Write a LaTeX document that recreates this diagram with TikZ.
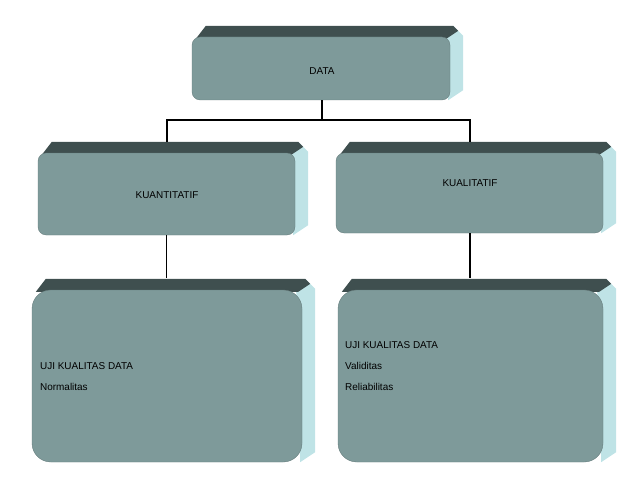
\documentclass[tikz,border=0pt]{standalone}
\usepackage{fontspec}
\setmainfont{Liberation Sans}
\usetikzlibrary{backgrounds}
\definecolor{frontcol}{HTML}{7E9A9A}
\definecolor{topcol}{HTML}{3F4F4F}
\definecolor{sidecol}{HTML}{BFE3E6}
\tikzset{
  front/.style={fill=frontcol, draw=frontcol!80!black, line width=0.3pt, rounded corners=7pt, inner sep=0pt},
  bigfront/.style={front, rounded corners=16pt},
  label/.style={font=\fontsize{8.5}{10}\selectfont},
  link/.style={line width=1.2pt}
}
% 3D faces behind a front node
\newcommand{\faces}[1]{
  \begin{scope}[on background layer]
    \fill[sidecol] ([shift={(-6,0)}]#1.north east) -- ([shift={(3,-11)}]#1.north east) -- ([shift={(13,-1)}]#1.north east)
      -- ([shift={(13,-10)}]#1.south east) -- ([shift={(-2,0)}]#1.south east) -- cycle;
    \fill[topcol] ([shift={(4,2)}]#1.north west) -- ([shift={(14,-11)}]#1.north west) -- ([shift={(3,-11)}]#1.north east)
      -- ([shift={(8,-6)}]#1.north east) -- ([shift={(-4,2)}]#1.north east) -- cycle;
  \end{scope}
}
\begin{document}
\begin{tikzpicture}[x=0.03cm, y=-0.03cm]
  \useasboundingbox (0,0) rectangle (638,479);
  \node[front, minimum width=258*0.03cm, minimum height=63*0.03cm] (data) at (321,68.5) {};
  \node[front, minimum width=257*0.03cm, minimum height=82*0.03cm] (kuan) at (166.5,194) {};
  \node[front, minimum width=267*0.03cm, minimum height=80*0.03cm] (kual) at (469.5,193) {};
  \node[bigfront, minimum width=270*0.03cm, minimum height=172*0.03cm] (ujikuan) at (167,376) {};
  \node[bigfront, minimum width=265*0.03cm, minimum height=172*0.03cm] (ujikual) at (470.5,376) {};
  \faces{data} \faces{kuan} \faces{kual} \faces{ujikuan} \faces{ujikual}
  % texts
  \node[label] (tdata) at (322,71) {DATA};
  \node[label] (tkuan) at (167,195) {KUANTITATIF};
  \node[label] (tkual) at (470,183) {KUALITATIF};
  \node[label, anchor=west] (l1) at (36,366) {UJI KUALITAS DATA};
  \node[label, anchor=west] (l2) at (36,387) {Normalitas};
  \node[label, anchor=west] (r1) at (341,345) {UJI KUALITAS DATA};
  \node[label, anchor=west] (r2) at (341,366) {Validitas};
  \node[label, anchor=west] (r3) at (341,387) {Reliabilitas};
  % connectors
  \coordinate (split) at (322,120);
  \draw[link] (data.south -| split) -- (split);
  \draw[link] (167,142) |- (split) -| (470,142);
  \draw[link] (kuan.south) -- ++(0,43);
  \draw[link] (kual.south -| 470,0) -- (470,278);
\end{tikzpicture}
\end{document}
